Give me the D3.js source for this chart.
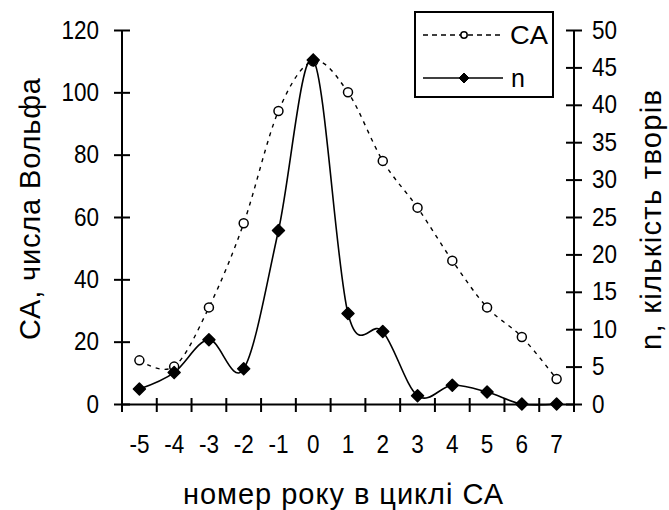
<!DOCTYPE html>
<html><head><meta charset="utf-8">
<script src="https://cdn.jsdelivr.net/npm/d3@7"></script>
<style>body{margin:0;background:#fff}svg{display:block}text{font-family:"Liberation Sans",Arial,sans-serif;fill:#000}</style>
</head><body>
<svg id="c" width="669" height="510"></svg>
<script>
const years = [-5,-4,-3,-2,-1,0,1,2,3,4,5,6,7];
const caValues = [14,12,31,58,94,110,100,78,63,46,31,21.5,8];
const nValues = [2,4.2,8.6,4.7,23.2,46,12.1,9.7,1.1,2.5,1.6,0,0];
const leftTicks = [0,20,40,60,80,100,120];
const rightTicks = [0,5,10,15,20,25,30,35,40,45,50];
const xTitle = "номер року в циклі СА";
const leftTitle = "СА, числа Вольфа";
const rightTitle = "n, кількість творів";
const legendLabels = ["CA","n"];

const svg = d3.select("#c");
const L = 122, R = 574, T = 30, B = 404;
const x = d3.scaleBand().domain(years).range([L,R]).padding(0);
const yL = d3.scaleLinear().domain([0,120]).range([B,T]);
const yR = d3.scaleLinear().domain([0,50]).range([B,T]);
const fs = 25, tfs = 29;

function squeeze(sel, k){
  sel.each(function(){
    const w = this.getComputedTextLength();
    d3.select(this).attr("textLength", w*k).attr("lengthAdjust","spacingAndGlyphs");
  });
}

// x axis
const gx = svg.append("g").attr("transform",`translate(0,${B})`);
gx.call(d3.axisBottom(x).tickSize(0).tickPadding(31));
gx.select(".domain").attr("stroke","#000").attr("stroke-width",2);
gx.selectAll("text").attr("font-size",fs).attr("font-family","Liberation Sans, Arial");
squeeze(gx.selectAll("text"), 0.9);
const edges = years.map(d=>x(d)).concat([R]);
gx.selectAll("line.edge").data(edges).enter().append("line").attr("class","edge")
  .attr("x1",d=>d).attr("x2",d=>d).attr("y1",-6).attr("y2",8).attr("stroke","#000").attr("stroke-width",2);

// left axis
const gl = svg.append("g").attr("transform",`translate(${L},0)`);
gl.call(d3.axisLeft(yL).tickValues(leftTicks).tickSize(8).tickPadding(15));
gl.select(".domain").attr("stroke","#000").attr("stroke-width",2).attr("d",`M0,${T}V${B}`);
gl.selectAll(".tick line").attr("x1",-8).attr("x2",8).attr("stroke-width",2);
gl.selectAll("text").attr("font-size",fs).attr("font-family","Liberation Sans, Arial");
squeeze(gl.selectAll("text"), 0.9);

// right axis
const gr = svg.append("g").attr("transform",`translate(${R},0)`);
gr.call(d3.axisRight(yR).tickValues(rightTicks).tickSize(8).tickPadding(10));
gr.select(".domain").attr("stroke","#000").attr("stroke-width",2).attr("d",`M0,${T}V${B}`);
gr.selectAll(".tick line").attr("x1",-8).attr("x2",8).attr("stroke-width",2);
gr.selectAll("text").attr("font-size",fs).attr("font-family","Liberation Sans, Arial");
squeeze(gr.selectAll("text"), 0.9);

const cx = d => x(d) + x.bandwidth()/2;
const curve = d3.curveCatmullRom.alpha(0);

// CA line
const caData = years.map((d,i)=>({x:d,y:caValues[i]}));
svg.append("path").datum(caData)
  .attr("d",d3.line().x(d=>cx(d.x)).y(d=>yL(d.y)).curve(curve))
  .attr("fill","none").attr("stroke","#000").attr("stroke-width",1.4).attr("stroke-dasharray","4,5");

// n line
const nData = years.map((d,i)=>({x:d,y:nValues[i]}));
svg.append("path").datum(nData)
  .attr("d",d3.line().x(d=>cx(d.x)).y(d=>yR(d.y)).curve(curve))
  .attr("fill","none").attr("stroke","#000").attr("stroke-width",1.6);

svg.selectAll("circle.ca").data(caData).enter().append("circle").attr("class","ca")
  .attr("cx",d=>cx(d.x)).attr("cy",d=>yL(d.y)).attr("r",4.5)
  .attr("fill","#fff").attr("stroke","#000").attr("stroke-width",1.5);

const diamond = "M0,-6L6,0L0,6L-6,0Z";
svg.selectAll("path.nm").data(nData).enter().append("path").attr("class","nm")
  .attr("d",diamond).attr("transform",d=>`translate(${cx(d.x)},${yR(d.y)})`)
  .attr("fill","#000").attr("stroke","#000").attr("stroke-width",1.5).attr("stroke-linejoin","round");

// titles
svg.append("text").attr("x",183).attr("y",504).attr("font-size",tfs)
  .attr("textLength",320).attr("lengthAdjust","spacing").text(xTitle);
svg.append("text").attr("transform",`translate(40,340) rotate(-90)`).attr("font-size",tfs)
  .attr("textLength",262).attr("lengthAdjust","spacing").text(leftTitle);
svg.append("text").attr("transform",`translate(661,350) rotate(-90)`).attr("font-size",tfs)
  .attr("textLength",260).attr("lengthAdjust","spacing").text(rightTitle);

// legend
const lg = svg.append("g");
lg.append("rect").attr("x",415).attr("y",12).attr("width",138).attr("height",85)
  .attr("fill","#fff").attr("stroke","#000").attr("stroke-width",2);
lg.append("line").attr("x1",423).attr("x2",503).attr("y1",35).attr("y2",35)
  .attr("stroke","#000").attr("stroke-width",1.4).attr("stroke-dasharray","5,4");
lg.append("circle").attr("cx",464).attr("cy",35).attr("r",3.2).attr("fill","#fff").attr("stroke","#000").attr("stroke-width",1.5);
lg.append("line").attr("x1",423).attr("x2",503).attr("y1",78).attr("y2",78)
  .attr("stroke","#000").attr("stroke-width",1.6);
lg.append("path").attr("d","M0,-5L5,0L0,5L-5,0Z").attr("transform","translate(464,78)").attr("fill","#000").attr("stroke","#000").attr("stroke-linejoin","round");
lg.append("text").attr("x",510).attr("y",44).attr("font-size",fs).attr("textLength",38).attr("lengthAdjust","spacingAndGlyphs").text(legendLabels[0]);
lg.append("text").attr("x",511).attr("y",87).attr("font-size",fs).text(legendLabels[1]);
</script>
</body></html>
